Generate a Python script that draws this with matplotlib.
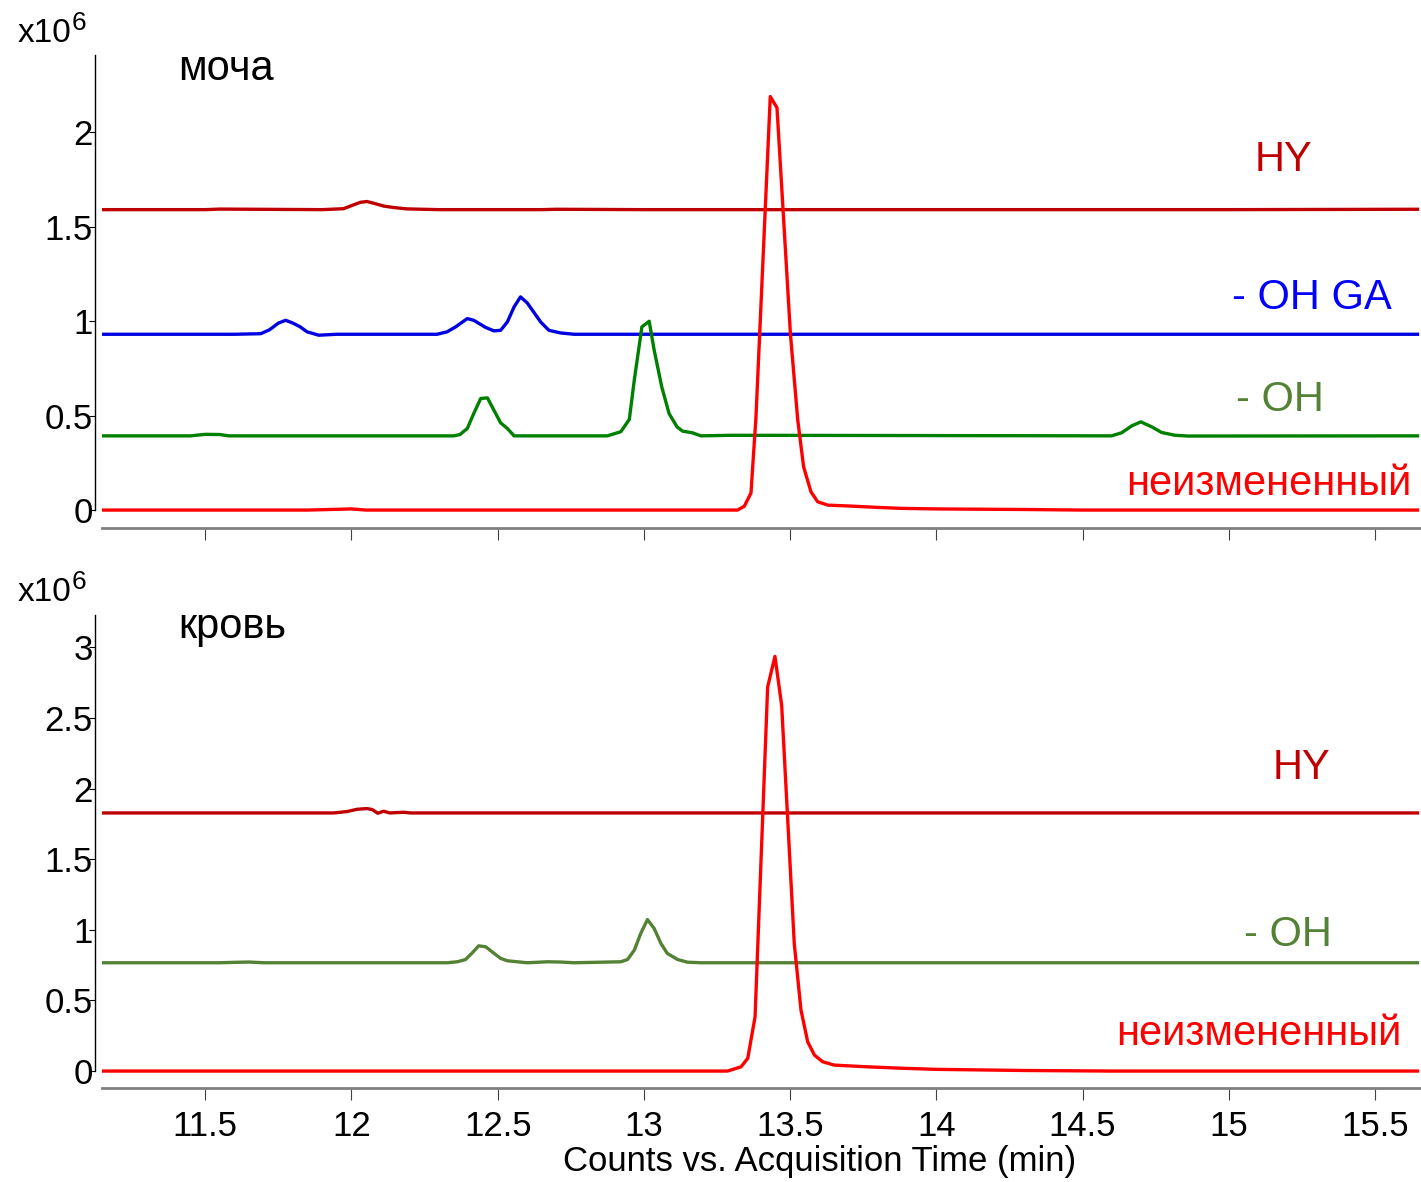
import matplotlib
matplotlib.use("Agg")
import matplotlib.pyplot as plt

plt.rcParams['font.family'] = ['Liberation Sans', 'DejaVu Sans']

# ---- data (x10^6 counts vs min) ----
# urine (моча)
u_hy_t = [11.15, 11.50, 11.55, 11.90, 11.973, 12.008, 12.031, 12.053, 12.076, 12.110, 12.145,
          12.19, 12.30, 12.65, 12.70, 13.0, 13.5, 14.0, 14.5, 15.0, 15.645]
u_hy_v = [1.591, 1.591, 1.594, 1.591, 1.596, 1.617, 1.630, 1.634, 1.625, 1.610, 1.602,
          1.595, 1.591, 1.591, 1.593, 1.591, 1.591, 1.591, 1.591, 1.591, 1.593]

u_ga_t = [11.15, 11.60, 11.69, 11.72, 11.75, 11.775, 11.80, 11.825, 11.848, 11.888, 11.95,
          12.293, 12.327, 12.356, 12.396, 12.418, 12.459, 12.487, 12.510, 12.533, 12.556,
          12.578, 12.601, 12.647, 12.675, 12.715, 12.761, 13.5, 15.645]
u_ga_v = [0.931, 0.931, 0.934, 0.955, 0.990, 1.005, 0.990, 0.970, 0.944, 0.926, 0.931,
          0.931, 0.944, 0.970, 1.014, 1.005, 0.967, 0.949, 0.952, 0.996, 1.076,
          1.129, 1.097, 0.996, 0.952, 0.938, 0.931, 0.931, 0.931]

u_oh_t = [11.15, 11.45, 11.50, 11.55, 11.58, 12.350, 12.371, 12.396, 12.418, 12.442, 12.465,
          12.487, 12.510, 12.533, 12.556, 12.875, 12.921, 12.950, 12.967, 12.993, 13.018,
          13.035, 13.061, 13.086, 13.113, 13.132, 13.166, 13.195, 13.30, 14.599, 14.633,
          14.668, 14.699, 14.736, 14.770, 14.816, 14.861, 15.645]
u_oh_v = [0.393, 0.393, 0.401, 0.400, 0.393, 0.393, 0.400, 0.432, 0.511, 0.591, 0.594,
          0.529, 0.462, 0.432, 0.393, 0.393, 0.415, 0.480, 0.688, 0.970, 1.000,
          0.847, 0.652, 0.511, 0.441, 0.418, 0.409, 0.393, 0.396, 0.393, 0.409,
          0.446, 0.467, 0.441, 0.411, 0.396, 0.392, 0.393]

u_par_t = [11.15, 11.85, 11.95, 12.0, 12.05, 13.286, 13.320, 13.343, 13.366, 13.383, 13.432,
           13.455, 13.501, 13.526, 13.546, 13.571, 13.594, 13.629, 13.709, 13.80, 13.88,
           14.0, 14.3, 14.5, 15.645]
u_par_v = [0.0, 0.0, 0.004, 0.006, 0.0, 0.0, 0.0, 0.02, 0.09, 0.49, 2.19,
           2.13, 0.93, 0.476, 0.229, 0.097, 0.044, 0.026, 0.021, 0.014, 0.009,
           0.006, 0.003, 0.0, 0.0]

# blood (кровь)
b_hy_t = [11.15, 11.939, 11.985, 12.019, 12.053, 12.071, 12.090, 12.110, 12.131, 12.179,
          12.201, 15.645]
b_hy_v = [1.828, 1.828, 1.838, 1.854, 1.859, 1.852, 1.826, 1.840, 1.828, 1.833,
          1.828, 1.828]

b_oh_t = [11.15, 11.55, 11.60, 11.65, 11.70, 12.327, 12.362, 12.390, 12.413, 12.435, 12.459,
          12.481, 12.510, 12.533, 12.601, 12.670, 12.715, 12.761, 12.921, 12.944, 12.967,
          12.989, 13.012, 13.035, 13.058, 13.080, 13.115, 13.149, 13.195, 15.645]
b_oh_v = [0.767, 0.767, 0.770, 0.772, 0.767, 0.767, 0.774, 0.790, 0.837, 0.887, 0.880,
          0.844, 0.798, 0.781, 0.767, 0.774, 0.772, 0.767, 0.774, 0.790, 0.856,
          0.974, 1.073, 1.010, 0.904, 0.833, 0.790, 0.771, 0.767, 0.767]

b_par_t = [11.15, 13.286, 13.332, 13.355, 13.380, 13.423, 13.448, 13.471, 13.514, 13.537,
           13.560, 13.583, 13.611, 13.651, 13.765, 13.88, 14.0, 14.3, 14.6, 15.645]
b_par_v = [0.0, 0.0, 0.03, 0.09, 0.384, 2.72, 2.937, 2.59, 0.904, 0.432,
           0.207, 0.113, 0.066, 0.042, 0.03, 0.02, 0.012, 0.004, 0.0, 0.0]

x_ticks = [11.5, 12, 12.5, 13, 13.5, 14, 14.5, 15, 15.5]
u_yticks = [0, 0.5, 1, 1.5, 2]
b_yticks = [0, 0.5, 1, 1.5, 2, 2.5, 3]

RED = '#FF0000'
DARKRED = '#C00000'
BLUE = '#0000E0'
GREEN = '#008000'
OLIVE = '#548235'

W, H = 1421, 1182
fig = plt.figure(figsize=(W / 100, H / 100), dpi=100)

ax1 = fig.add_axes([102 / W, 1 - 528 / H, 1 - 102 / W, 473 / H])
ax2 = fig.add_axes([102 / W, 1 - 1088 / H, 1 - 102 / W, 473 / H])

lw = 2.4
ax1.plot(u_hy_t, u_hy_v, color=DARKRED, lw=lw)
ax1.plot(u_ga_t, u_ga_v, color=BLUE, lw=lw)
ax1.plot(u_oh_t, u_oh_v, color=GREEN, lw=lw)
ax1.plot(u_par_t, u_par_v, color=RED, lw=lw)

ax2.plot(b_hy_t, b_hy_v, color=DARKRED, lw=lw)
ax2.plot(b_oh_t, b_oh_v, color=OLIVE, lw=lw)
ax2.plot(b_par_t, b_par_v, color=RED, lw=lw)

ax1.set_ylim(-0.095, 2.41)
ax2.set_ylim(-0.12, 3.23)

for ax, yt in [(ax1, u_yticks), (ax2, b_yticks)]:
    ax.set_xlim(11.147, 15.657)
    ax.set_xticks(x_ticks)
    ax.set_xticklabels([f'{v:g}' for v in x_ticks])
    ax.set_yticks(yt)
    ax.set_yticklabels([f'{v:g}' for v in yt])
    ax.spines['top'].set_visible(False)
    ax.spines['right'].set_visible(False)
    ax.spines['left'].set_position(('outward', 5))
    ax.spines['left'].set_bounds(0, ax.get_ylim()[1])
    ax.spines['left'].set_linewidth(1.0)
    ax.spines['bottom'].set_color('#808080')
    ax.spines['bottom'].set_linewidth(2.0)
    ax.tick_params(axis='y', direction='out', length=4, width=0.8, pad=-2.5,
                   labelsize=25, colors='black')
    ax.tick_params(axis='x', direction='out', length=8.5, width=0.8, color='#404040',
                   labelsize=25, pad=7.5)
    ax.patch.set_alpha(0)

ax1.tick_params(axis='x', labelbottom=False)

fig.text(820 / W, 1 - 1162 / H, 'Counts vs. Acquisition Time (min)', ha='center', va='center',
         fontsize=25)

# x10^6 multipliers
for base_y in (42, 601):
    fig.text(18 / W, 1 - base_y / H, 'x10', fontsize=24, ha='left', va='baseline')
    fig.text(72 / W, 1 - (base_y - 12) / H, '6', fontsize=19, ha='left', va='baseline')

big = 30
ax1.text(11.407, 2.275, 'моча', fontsize=big, ha='left', va='baseline')
ax2.text(11.407, 3.07, 'кровь', fontsize=big, ha='left', va='baseline')

ax1.text(15.284, 1.794, 'HY', color=DARKRED, fontsize=big, ha='right', va='baseline')
ax1.text(15.558, 1.063, '- OH GA', color='#0000FF', fontsize=big, ha='right', va='baseline')
ax1.text(15.325, 0.524, '- OH', color=OLIVE, fontsize=big, ha='right', va='baseline')
ax1.text(15.626, 0.079, 'неизмененный', color=RED, fontsize=big, ha='right', va='baseline')

ax2.text(15.346, 2.066, 'HY', color=DARKRED, fontsize=big, ha='right', va='baseline')
ax2.text(15.352, 0.885, '- OH', color=OLIVE, fontsize=big, ha='right', va='baseline')
ax2.text(15.592, 0.184, 'неизмененный', color=RED, fontsize=big, ha='right', va='baseline')

fig.savefig('out.png', dpi=100)
